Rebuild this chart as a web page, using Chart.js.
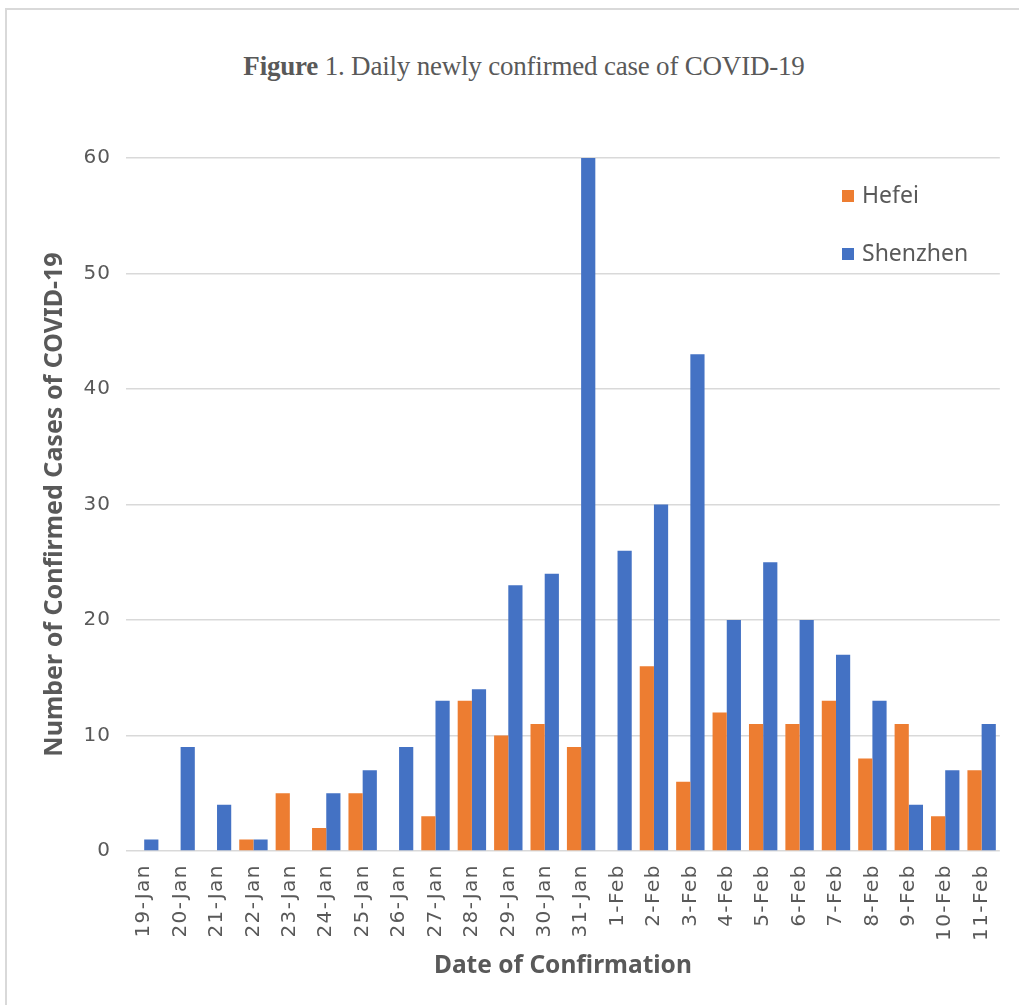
<!DOCTYPE html>
<html>
<head>
<meta charset="utf-8">
<script src="https://cdn.jsdelivr.net/npm/chart.js@4/dist/chart.umd.min.js"></script>
<style>
  html, body { margin: 0; padding: 0; background: #fff; }
  #wrap { position: relative; width: 1019px; height: 1005px; overflow: hidden; }
  #frame { position: absolute; left: 5px; top: 8px; width: 1030px; height: 1010px; border: 2px solid #d9d9d9; box-sizing: border-box; }
  #title { position: absolute; left: 0; top: 51px; width: 1048px; text-align: center;
           font-family: "Liberation Serif", "Times New Roman", serif; font-size: 27px; color: #595959; letter-spacing: -0.2px; }
  canvas { position: absolute; left: 0; top: 0; }
</style>
</head>
<body>
<div id="wrap">
  <div id="frame"></div>
  <div id="title"><b>Figure</b> 1. Daily newly confirmed case of COVID-19</div>
  <canvas id="c" width="1019" height="1005"></canvas>
</div>
<script>
const categories = ["19-Jan","20-Jan","21-Jan","22-Jan","23-Jan","24-Jan","25-Jan","26-Jan","27-Jan","28-Jan","29-Jan","30-Jan","31-Jan","1-Feb","2-Feb","3-Feb","4-Feb","5-Feb","6-Feb","7-Feb","8-Feb","9-Feb","10-Feb","11-Feb"];
const hefei    = [0, 0, 0, 1, 5, 2, 5, 0, 3, 13, 10, 11, 9, 0, 16, 6, 12, 11, 11, 13, 8, 11, 3, 7];
const shenzhen = [1, 9, 4, 1, 0, 5, 7, 9, 13, 14, 23, 24, 60, 26, 30, 43, 20, 25, 20, 17, 13, 4, 7, 11];
const seriesNames = ["Hefei", "Shenzhen"];
const seriesColors = ["#ED7D31", "#4472C4"];
const yTicks = [0, 10, 20, 30, 40, 50, 60];

// letter-spaced tick labels (as in the reference)
const spacingPlugin = {
  id: 'tickSpacing',
  beforeDraw(chart) {
    [['x', '1.5px'], ['y', '1px']].forEach(([id, sp]) => {
      const s = chart.scales[id];
      if (s && !s._spaced) {
        const orig = s.drawLabels.bind(s);
        s.drawLabels = function (area) {
          const c = this.ctx; c.save(); c.letterSpacing = sp; orig(area); c.restore();
        };
        s._spaced = true;
      }
    });
  }
};

const legendPlugin = {
  id: 'insideLegend',
  afterDraw(chart) {
    const ctx = chart.ctx;
    ctx.save();
    ctx.font = '23px "Noto Sans", sans-serif';
    ctx.textBaseline = 'middle';
    ctx.textAlign = 'left';
    const ys = [196, 254];
    chart.data.datasets.forEach((ds, i) => {
      ctx.fillStyle = ds.backgroundColor;
      ctx.fillRect(842, ys[i] - 6, 12, 12);
      ctx.fillStyle = '#595959';
      ctx.fillText(ds.label, 862, ys[i]);
    });
    ctx.restore();
  }
};

const chart = new Chart(document.getElementById('c'), {
  type: 'bar',
  data: {
    labels: categories,
    datasets: [
      { label: seriesNames[0], data: hefei, backgroundColor: seriesColors[0] },
      { label: seriesNames[1], data: shenzhen, backgroundColor: seriesColors[1] }
    ]
  },
  options: {
    responsive: false,
    animation: false,
    devicePixelRatio: 1,
    layout: { padding: { top: 158, right: 18, left: 0, bottom: 0 } },
    datasets: { bar: { categoryPercentage: 0.78, barPercentage: 1.0 } },
    plugins: { legend: { display: false }, tooltip: { enabled: false }, title: { display: false } },
    scales: {
      x: {
        grid: { display: false, drawTicks: false },
        border: { display: false },
        ticks: { minRotation: 90, maxRotation: 90, autoSkip: false, padding: 13, color: '#595959',
                 font: { family: '"DejaVu Sans", sans-serif', size: 20 } },
        title: { display: true, text: 'Date of Confirmation', color: '#595959',
                 font: { family: '"Noto Sans", sans-serif', size: 24.5, weight: 'bold' },
                 padding: { top: 0, bottom: 24 } },
        afterFit(scale) { scale.height = 154; }
      },
      y: {
        min: 0, max: 60,
        afterBuildTicks(scale) { scale.ticks = yTicks.map(v => ({ value: v })); },
        grid: { color: '#d9d9d9', lineWidth: 1.5, drawTicks: false },
        border: { display: false },
        ticks: { padding: 15, color: '#595959', font: { family: '"DejaVu Sans", sans-serif', size: 20 } },
        title: { display: true, text: 'Number of Confirmed Cases of COVID-19', color: '#595959',
                 font: { family: '"Noto Sans", sans-serif', size: 25, weight: 'bold' },
                 padding: { top: 40, bottom: 0 } },
        afterFit(scale) { scale.width = 126; }
      }
    }
  },
  plugins: [spacingPlugin, legendPlugin]
});
chart.draw();
</script>
</body>
</html>
